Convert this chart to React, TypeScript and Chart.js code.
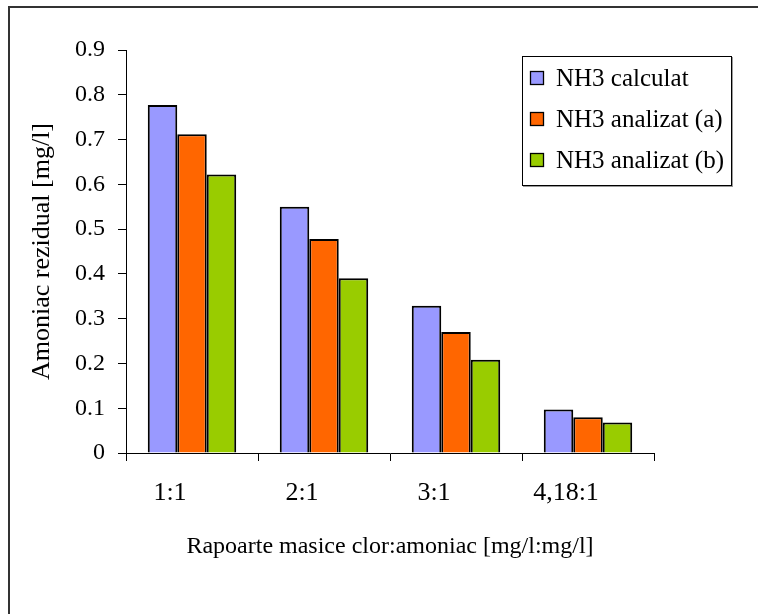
import React, { useEffect, useRef } from "react";
import { Chart, registerables } from "chart.js";

Chart.register(...registerables);

const categories = ["1:1", "2:1", "3:1", "4,18:1"];
const seriesNames = ["NH3 calculat", "NH3 analizat (a)", "NH3 analizat (b)"];
const nh3Calculat = [0.777, 0.55, 0.329, 0.097];
const nh3AnalizatA = [0.712, 0.478, 0.27, 0.08];
const nh3AnalizatB = [0.622, 0.39, 0.208, 0.068];
const seriesColors = ["#9999FF", "#FF6600", "#99CC00"];
const yMin = 0;
const yMax = 0.9;
const yStep = 0.1;
const xTitle = "Rapoarte masice clor:amoniac [mg/l:mg/l]";
const yTitle = "Amoniac rezidual [mg/l]";

const SERIF = "'Liberation Serif', 'Times New Roman', serif";

const boxLegend = {
  id: "boxLegend",
  afterDraw(chart: any) {
    const ctx = chart.ctx as CanvasRenderingContext2D;
    const x = 522, y = 56, w = 209, h = 129;
    ctx.save();
    ctx.strokeStyle = "#9a9a9a";
    ctx.lineWidth = 1;
    ctx.strokeRect(x + 1.5, y + 1.5, w, h);
    ctx.fillStyle = "#fff";
    ctx.fillRect(x, y, w, h);
    ctx.strokeStyle = "#000";
    ctx.strokeRect(x + 0.5, y + 0.5, w, h);
    chart.data.datasets.forEach((ds: any, i: number) => {
      const cy = 78 + i * 41;
      ctx.fillStyle = ds.backgroundColor;
      ctx.fillRect(530, cy - 7, 14, 14);
      ctx.strokeStyle = "#000";
      ctx.lineWidth = 1.3;
      ctx.strokeRect(530.5, cy - 6.5, 13, 13);
      ctx.fillStyle = "#000";
      ctx.font = `25px ${SERIF}`;
      ctx.textBaseline = "middle";
      ctx.textAlign = "left";
      ctx.fillText(ds.label, 556, cy + 1);
    });
    ctx.restore();
  },
};

export default function App() {
  const canvasRef = useRef<HTMLCanvasElement | null>(null);

  useEffect(() => {
    if (!canvasRef.current) return;
    const values = [nh3Calculat, nh3AnalizatA, nh3AnalizatB];
    const chart = new Chart(canvasRef.current, {
      type: "bar",
      data: {
        labels: categories,
        datasets: seriesNames.map((name, i) => ({
          label: name,
          data: values[i],
          backgroundColor: seriesColors[i],
          borderColor: "#000",
          borderWidth: 2,
          borderSkipped: "bottom",
          categoryPercentage: 0.67,
          barPercentage: 1,
        })),
      },
      options: {
        responsive: false,
        animation: false,
        devicePixelRatio: 1,
        layout: { padding: { left: 0, top: 50, right: 104, bottom: 0 } },
        plugins: {
          legend: { display: false },
          tooltip: { enabled: false },
        },
        scales: {
          x: {
            offset: true,
            grid: {
              offset: true,
              drawOnChartArea: false,
              drawTicks: true,
              tickLength: 8,
              color: "#000",
            },
            border: { display: true, color: "#000", width: 1 },
            ticks: {
              color: "#000",
              font: { family: SERIF, size: 26 },
              padding: 17,
              labelOffset: -22,
              maxRotation: 0,
              autoSkip: false,
            },
            title: {
              display: true,
              text: xTitle,
              color: "#000",
              font: { family: SERIF, size: 24 },
              padding: { top: 0, bottom: 53 },
            },
            afterFit(scale: any) {
              scale.height = 161;
            },
          },
          y: {
            min: yMin,
            max: yMax,
            grid: {
              drawOnChartArea: false,
              drawTicks: true,
              tickLength: 8,
              color: "#000",
            },
            border: { display: true, color: "#000", width: 1 },
            ticks: {
              stepSize: yStep,
              color: "#000",
              font: { family: SERIF, size: 24 },
              padding: 13,
              callback: (v: any) => {
                const n = Number(v);
                return Math.abs(n) < 1e-9 ? "0" : n.toFixed(1);
              },
            },
            title: {
              display: true,
              text: yTitle,
              color: "#000",
              font: { family: SERIF, size: 26 },
              padding: { top: 27, bottom: 0 },
            },
            afterFit(scale: any) {
              scale.width = 126;
            },
          },
        },
      },
      plugins: [boxLegend],
    });
    return () => chart.destroy();
  }, []);

  return (
    <div
      style={{
        position: "fixed",
        left: 0,
        top: 0,
        width: 758,
        height: 614,
        overflow: "hidden",
        background: "#fff",
      }}
    >
      <div
        style={{
          position: "absolute",
          left: 8,
          top: 6,
          width: 900,
          height: 800,
          borderTop: "2px solid #333",
          borderLeft: "2px solid #333",
          boxSizing: "border-box",
        }}
      />
      <canvas
        ref={canvasRef}
        width={758}
        height={614}
        style={{ position: "absolute", left: 0, top: 0, width: 758, height: 614 }}
      />
    </div>
  );
}
